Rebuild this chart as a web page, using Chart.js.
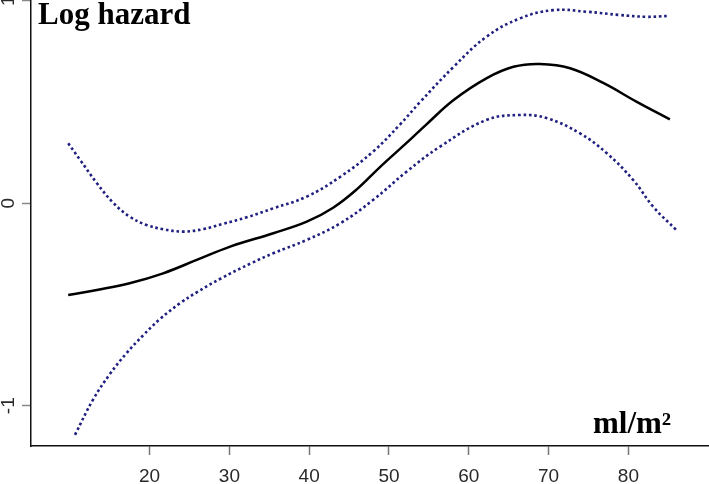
<!DOCTYPE html>
<html>
<head>
<meta charset="utf-8">
<script src="https://cdn.jsdelivr.net/npm/chart.js@4/dist/chart.umd.min.js"></script>
<style>
  html, body { margin: 0; padding: 0; background: #fff; }
  #wrap { width: 709px; height: 484px; }
</style>
</head>
<body>
<div id="wrap"><canvas id="grafico" width="709" height="484"></canvas></div>
<script>
// valores
var fitX = [9.8, 13.4, 17.5, 21.7, 25.9, 30.1, 35.5, 39.7, 43.0, 46.0, 48.9, 52.2, 54.7, 58.1, 62.2, 65.6, 68.9, 72.7, 76.9, 81.0, 85.2];
var fitY = [-0.453, -0.428, -0.395, -0.346, -0.28, -0.214, -0.148, -0.091, -0.022, 0.07, 0.18, 0.298, 0.39, 0.51, 0.617, 0.674, 0.688, 0.667, 0.593, 0.502, 0.414];

var upperX = [9.8, 11.3, 13.4, 15.5, 17.5, 19.6, 21.7, 24.2, 26.7, 29.2, 32.2, 35.5, 39.7, 43.9, 48.0, 51.4, 53.9, 58.1, 62.2, 66.4, 70.6, 74.8, 78.9, 82.3, 84.8];
var upperY = [0.296, 0.214, 0.099, 0.0, -0.066, -0.107, -0.128, -0.14, -0.128, -0.102, -0.069, -0.025, 0.033, 0.131, 0.255, 0.39, 0.5, 0.674, 0.822, 0.913, 0.954, 0.946, 0.93, 0.921, 0.925];

var lowerX = [10.65, 12.9, 15.0, 17.1, 19.2, 21.3, 23.8, 25.9, 29.0, 32.8, 35.5, 39.7, 43.9, 48.0, 52.2, 56.4, 62.2, 66.4, 69.8, 73.9, 77.3, 80.6, 83.1, 86.0];
var lowerY = [-1.144, -0.971, -0.845, -0.741, -0.652, -0.572, -0.494, -0.44, -0.37, -0.295, -0.247, -0.181, -0.099, 0.016, 0.156, 0.28, 0.411, 0.436, 0.42, 0.346, 0.247, 0.115, -0.017, -0.132];

var xTicks = [20, 30, 40, 50, 60, 70, 80];
var yTicks = [-1, 0, 1];
var yTickLabels = ["-1", "0", "1"];
var titulo = "Log hazard";
var unidade = "ml/m\u00B2";

function Pares(xs, ys) {
    return xs.map(function (x, i) { return { x: x, y: ys[i] }; });
}

var textos = {
    id: 'textos',
    afterDraw: function (chart) {
        var ctx = chart.ctx;
        var yScale = chart.scales.y;
        ctx.save();
        ctx.fillStyle = '#2a2a2a';
        ctx.font = '19px "Liberation Sans", Arial, sans-serif';
        ctx.textAlign = 'center';
        ctx.textBaseline = 'middle';
        yTicks.forEach(function (v, i) {
            var py = yScale.getPixelForValue(v);
            ctx.save();
            ctx.translate(9, py);
            ctx.rotate(-Math.PI / 2);
            ctx.fillText(yTickLabels[i], 0, 0);
            ctx.restore();
        });
        ctx.fillStyle = '#000';
        ctx.font = 'bold 31px "Liberation Serif", "Times New Roman", serif';
        ctx.textAlign = 'left';
        ctx.textBaseline = 'alphabetic';
        ctx.fillText(titulo, 38, 24);
        ctx.fillText(unidade, 593, 433);
        ctx.restore();
    }
};

var ctx = document.getElementById('grafico').getContext('2d');

var grafico = new Chart(ctx, {
    type: 'line',
    data: {
        datasets: [{
            label: 'upper',
            data: Pares(upperX, upperY),
            borderColor: '#1f1f80',
            borderWidth: 2.6,
            borderDash: [2.6, 2.8],
            pointRadius: 0,
            tension: 0.4
        }, {
            label: 'lower',
            data: Pares(lowerX, lowerY),
            borderColor: '#1f1f80',
            borderWidth: 2.6,
            borderDash: [2.6, 2.8],
            pointRadius: 0,
            tension: 0.4
        }, {
            label: 'fit',
            data: Pares(fitX, fitY),
            borderColor: '#000',
            borderWidth: 2.5,
            pointRadius: 0,
            tension: 0.4
        }]
    },
    options: {
        responsive: false,
        animation: false,
        devicePixelRatio: 1,
        layout: { padding: 0 },
        plugins: {
            legend: { display: false },
            title: { display: false },
            tooltip: { enabled: false }
        },
        scales: {
            x: {
                type: 'linear',
                min: 5.14,
                max: 90.1,
                afterBuildTicks: function (scale) {
                    scale.ticks = xTicks.map(function (v) { return { value: v }; });
                },
                afterFit: function (scale) { scale.height = 38; },
                grid: {
                    drawOnChartArea: false,
                    drawTicks: true,
                    tickLength: 9,
                    tickColor: '#777',
                    tickWidth: 1.5
                },
                border: { display: true, color: '#111', width: 1.5 },
                ticks: {
                    color: '#2a2a2a',
                    padding: 10,
                    maxRotation: 0,
                    autoSkip: false,
                    font: { family: '"Liberation Sans", Arial, sans-serif', size: 19 }
                }
            },
            y: {
                type: 'linear',
                min: -1.199,
                max: 1.004,
                afterBuildTicks: function (scale) {
                    scale.ticks = yTicks.map(function (v) { return { value: v }; });
                },
                afterFit: function (scale) { scale.width = 31; },
                grid: {
                    drawOnChartArea: false,
                    drawTicks: true,
                    tickLength: 9,
                    tickColor: '#888',
                    tickWidth: 1.5
                },
                border: { display: true, color: '#111', width: 1.5 },
                ticks: { display: false }
            }
        }
    },
    plugins: [textos]
});
</script>
</body>
</html>
